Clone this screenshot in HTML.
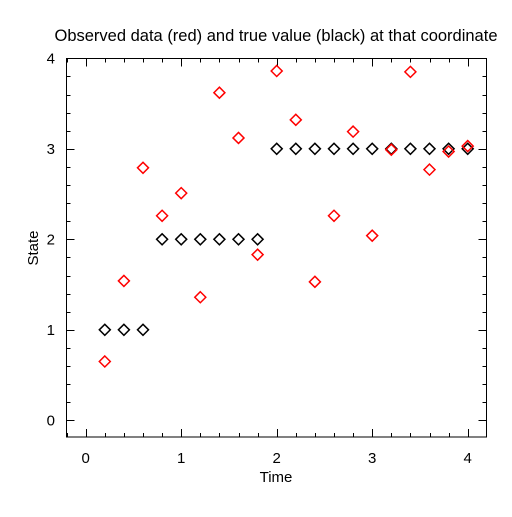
<!DOCTYPE html>
<html><head><meta charset="utf-8"><style>
body{margin:0;background:#fff}
text{font-family:"Liberation Sans",sans-serif;fill:#000}
</style></head><body>
<svg id="c" width="512" height="512" xmlns="http://www.w3.org/2000/svg">
<text x="276" y="41" font-size="16.5" text-anchor="middle">Observed data (red) and true value (black) at that coordinate</text>
<rect x="66.5" y="58.5" width="420" height="378.5" fill="none" stroke="#000" stroke-width="1"/>
<text x="276" y="482" font-size="15" text-anchor="middle">Time</text>
<text x="38" y="248" font-size="15" text-anchor="middle" transform="rotate(-90 38 248)">State</text>
<g id="ticks"></g><g id="marks"></g>
</svg>
<script>
const times=[0.2,0.4,0.6,0.8,1.0,1.2,1.4,1.6,1.8,2.0,2.2,2.4,2.6,2.8,3.0,3.2,3.4,3.6,3.8,4.0];
const observed=[0.65,1.54,2.79,2.26,2.51,1.36,3.62,3.12,1.83,3.86,3.32,1.53,2.26,3.19,2.04,2.99,3.85,2.77,2.97,3.03];
const truth=[1,1,1,2,2,2,2,2,2,3,3,3,3,3,3,3,3,3,3,3];
const xTicks=[0,1,2,3,4];
const yTicks=[0,1,2,3,4];
const X=v=>85.7+v*95.5, Y=v=>420.3-v*90.5;
const NS="http://www.w3.org/2000/svg";
const tg=document.getElementById('ticks'), mg=document.getElementById('marks');
function line(x1,y1,x2,y2,name){const l=document.createElementNS(NS,'line');
l.setAttribute('x1',x1);l.setAttribute('y1',y1);l.setAttribute('x2',x2);l.setAttribute('y2',y2);l.setAttribute('stroke','#000');


tg.appendChild(l);}
for(let i=-1;i<=21;i++){const v=i*0.2;const x=Math.round(X(v))+0.5;if(x<67||x>486)continue;const len=i%5===0?8:4;
line(x,437,x,437-len,'x-tick');line(x,58.5,x,58.5+len,'x-tick');}
for(let i=-1;i<=21;i++){const v=i*0.2;const y=Math.round(Y(v))+0.5;if(y<59||y>437)continue;const len=i%5===0?8:4;
line(66.5,y,66.5+len,y,'y-tick');line(486.5,y,486.5-len,y,'y-tick');}
xTicks.forEach(v=>{const t=document.createElementNS(NS,'text');t.setAttribute('x',X(v));t.setAttribute('y',463);t.setAttribute('font-size','15');t.setAttribute('text-anchor','middle');t.textContent=v;


tg.appendChild(t);});
yTicks.forEach(v=>{const t=document.createElementNS(NS,'text');t.setAttribute('x',55);t.setAttribute('y',Y(v)+5);t.setAttribute('font-size','15');t.setAttribute('text-anchor','end');t.textContent=v;


tg.appendChild(t);});
function diamond(x,y,c,name){const p=document.createElementNS(NS,'polygon');const s=5.5;
p.setAttribute('points',`${x},${y-s} ${x+s},${y} ${x},${y+s} ${x-s},${y}`);p.setAttribute('fill','none');p.setAttribute('stroke',c);p.setAttribute('stroke-width','1.5');


mg.appendChild(p);}
times.forEach((t,i)=>diamond(X(t),Y(truth[i]),'#000','true-value-point'));
times.forEach((t,i)=>diamond(X(t),Y(observed[i]),'#f00','observed-point'));
</script>
</body></html>
